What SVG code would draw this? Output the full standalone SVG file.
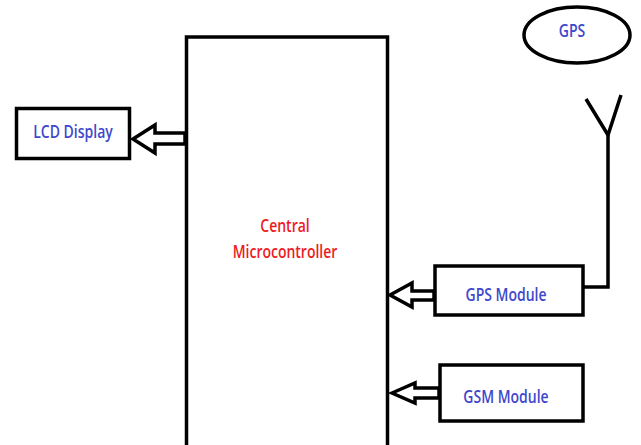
<svg xmlns="http://www.w3.org/2000/svg" width="641" height="445" viewBox="0 0 641 445">
<style>
.box{fill:#fff;stroke:#000;stroke-width:3.5}
.arr{fill:#fff;stroke:#000;stroke-width:3.5;stroke-linejoin:miter}
.wire{fill:none;stroke:#000;stroke-width:3.5;stroke-linejoin:miter}
.lbl{font-family:"Open Sans","Liberation Sans",sans-serif;font-size:14px;font-weight:600;fill:#3F48CC;text-anchor:middle}
.red{fill:#ED1C24}
</style>
<rect width="641" height="445" fill="#fff"/>
<g id="central">
<rect class="box" x="186.5" y="37" width="201" height="412"/>
<text class="lbl red" transform="translate(285,232) scale(1,1.3)">Central</text>
<text class="lbl red" transform="translate(285,258) scale(1,1.3)">Microcontroller</text>
</g>
<g id="lcd">
<rect class="box" x="16.5" y="108.5" width="113" height="50"/>
<text class="lbl" transform="translate(73,138) scale(1,1.3)">LCD Display</text>
</g>
<g id="gpsmodule">
<rect class="box" x="435" y="266" width="148" height="49"/>
<text class="lbl" transform="translate(506,301) scale(1,1.3)">GPS Module</text>
</g>
<g id="gsm">
<rect class="box" x="440" y="365" width="143" height="56"/>
<text class="lbl" transform="translate(506,403) scale(1,1.3)">GSM Module</text>
</g>
<g id="gps">
<ellipse class="box" cx="577" cy="35" rx="53" ry="28"/>
<text class="lbl" transform="translate(572,37) scale(1,1.3)">GPS</text>
</g>
<g id="connectors">
<polygon class="arr" points="133,139 155,125 155,133 185,133 185,144 155,144 155,153"/>
<polygon class="arr" points="390,295 412,283 412,291 434,291 434,300 412,300 412,307"/>
<polygon class="arr" points="392,393 415,383 415,388 439,388 439,398 415,398 415,403"/>
<polyline class="wire" points="583,287 608,287 608,135"/>
<polyline class="wire" points="586,99 608,135 621,95"/>
</g>
</svg>
